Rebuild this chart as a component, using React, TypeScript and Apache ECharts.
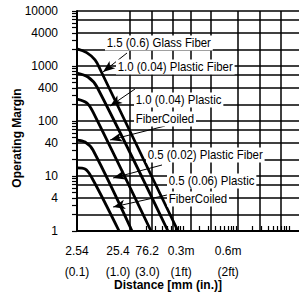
import React, { useEffect, useRef } from "react";
import * as echarts from "echarts";

const FONT = '"Liberation Sans", Arial, sans-serif';

// Axis ticks / labels
const xLabelValues = [2.54, 25.4, 76.2, 304.8, 609.6];
const xLabelTop = ["2.54", "25.4", "76.2", "0.3m", "0.6m"];
const xLabelBottom = ["(0.1)", "(1.0)", "(3.0)", "(1ft)", "(2ft)"];
const xGridValues = [25.4, 66, 165, 360, 860, 2770, 7200, 18000];
const xMinorTicks = [25.4, 50.8, 76.2, 101.6, 127, 152.4, 177.8, 203.2, 228.6, 254, 508, 762, 1016, 1270, 1524, 1778, 2032, 2286, 2540, 5080, 7620, 10160, 12700, 15240, 17780, 20320, 22860, 25400];
const yLabelValues = [1, 4, 10, 40, 100, 400, 1000, 4000, 10000];
const yGridValues = [2, 4, 7, 10, 20, 40, 70, 100, 200, 400, 700, 1000, 2000, 4000, 7000, 10000];
const yMinorTicks = [1, 2, 3, 4, 5, 6, 7, 8, 9, 10, 20, 30, 40, 50, 60, 70, 80, 90, 100, 200, 300, 400, 500, 600, 700, 800, 900, 1000, 2000, 3000, 4000, 5000, 6000, 7000, 8000, 9000, 10000];

// Curves [distance mm, operating margin]
const glassFiber15 = [[2.54, 2040], [3.87, 1750], [5.56, 1290], [7.03, 846], [204, 1]];
const plasticFiber10 = [[2.54, 745], [4.09, 631], [6.06, 415], [132, 1]];
const plasticCoiled10 = [[2.54, 250], [3.92, 212], [5.08, 146], [63.2, 1]];
const plasticFiber05 = [[2.54, 45], [3.6, 41.5], [5.08, 29.7], [27.7, 1]];
const plasticCoiled05 = [[2.54, 14], [3.6, 13.4], [4.87, 9.2], [15.8, 1]];

// Annotation arrows: [from, to]
const arrowGlass15 = [[22.3, 1723], [7.85, 778]];
const arrowFiber10 = [[31.6, 382], [10.7, 187]];
const arrowCoiled10 = [[116, 81], [10.7, 45.2]];
const arrowFiber05 = [[102, 15.85], [12.2, 9.2]];
const arrowCoiled05 = [[126, 4.51], [12.2, 2.73]];

const curveNames = [
  "1.5 (0.6) Glass Fiber",
  "1.0 (0.04) Plastic Fiber",
  "1.0 (0.04) Plastic FiberCoiled",
  "0.5 (0.02) Plastic Fiber",
  "0.5 (0.06) Plastic FiberCoiled",
];

const X_MIN = 2.54;
const X_MAX = 39200;

function makeSeries(name: string, data: number[][], arrow: number[][]) {
  return {
    name,
    type: "line",
    xAxisIndex: 0,
    yAxisIndex: 0,
    data,
    smooth: 0.35,
    showSymbol: false,
    symbol: "none",
    lineStyle: { color: "#000", width: 2.8 },
    z: 5,
    markLine: {
      silent: true,
      symbol: ["none", "arrow"],
      symbolSize: [7, 12],
      lineStyle: { color: "#000", width: 1, type: "solid" },
      label: { show: false },
      emphasis: { disabled: true },
      data: [[{ coord: arrow[0] }, { coord: arrow[1] }]],
    },
  };
}

export default function App() {
  const ref = useRef<HTMLDivElement>(null);
  useEffect(() => {
    if (!ref.current) return;
    const chart = echarts.init(ref.current, undefined, { renderer: "svg" });
    const txt = (text: string, x: number, y: number) => ({
      type: "text",
      x,
      y,
      z: 100,
      scaleX: 0.88,
      style: {
        text,
        fill: "#000",
        font: `13px ${FONT}`,
        backgroundColor: "#fff",
        padding: [1, 2],
        verticalAlign: "middle",
        align: "left",
      },
    });
    const richLabel = (pad: number[]) => ({
      fontFamily: FONT,
      fontSize: 12,
      color: "#000",
      lineHeight: 21,
      padding: pad,
    });
    const labelFormatter = (v: number) => {
      const i = xLabelValues.findIndex((t) => Math.abs(t - v) / t < 0.01);
      if (i < 0) return "";
      return `{r${i}|${xLabelTop[i]}}\n{r${i}|${xLabelBottom[i]}}`;
    };
    const rich = {
      r0: richLabel([0, 0, 0, 0]),
      r1: richLabel([0, 24, 0, 0]),
      r2: richLabel([0, 16, 0, 0]),
      r3: richLabel([0, 12, 0, 0]),
      r4: richLabel([0, 0, 0, 50]),
    };
    const labelAxis = (values: number[]) => ({
      customValues: values,
      hideOverlap: false,
      color: "#000",
      fontFamily: FONT,
      fontSize: 12,
      lineHeight: 21,
      margin: 9,
      formatter: labelFormatter,
      rich,
    });
    const option: any = {
      animation: false,
      backgroundColor: "#fff",
      grid: { left: 77, right: 0, top: 11, bottom: 68 },
      xAxis: [
        {
          type: "log",
          min: X_MIN,
          max: X_MAX,
          position: "bottom",
          axisLine: { show: true, lineStyle: { color: "#000", width: 2 } },
          axisTick: { show: true, inside: true, length: 5, customValues: xMinorTicks, lineStyle: { color: "#000", width: 1.2 } },
          axisLabel: labelAxis([xLabelValues[0], xLabelValues[2]]),
          splitLine: { show: false },
        },
        {
          type: "log",
          min: X_MIN,
          max: X_MAX,
          position: "bottom",
          offset: 0,
          axisLine: { show: false },
          axisTick: { show: false, customValues: xGridValues },
          axisLabel: labelAxis([xLabelValues[1], xLabelValues[4]]),
          splitLine: { show: true, lineStyle: { color: "#000", width: 1.5 } },
        },
        {
          type: "log",
          min: X_MIN,
          max: X_MAX,
          position: "bottom",
          offset: 0,
          axisLine: { show: false },
          axisTick: { show: false, customValues: [xLabelValues[3]] },
          axisLabel: labelAxis([xLabelValues[3]]),
          splitLine: { show: false },
        },
      ],
      yAxis: [
        {
          type: "log",
          min: 1,
          max: 10000,
          position: "left",
          axisLine: { show: true, lineStyle: { color: "#000", width: 2 } },
          axisTick: { show: true, inside: false, length: 5, customValues: yMinorTicks, lineStyle: { color: "#000", width: 1.2 } },
          axisLabel: {
            customValues: yLabelValues,
            color: "#000",
            fontFamily: FONT,
            fontSize: 12,
            margin: 19,
            formatter: (v: number) => String(Math.round(v)),
          },
          splitLine: { show: false },
        },
        {
          type: "log",
          min: 1,
          max: 10000,
          position: "left",
          axisLine: { show: false },
          axisTick: { show: false, customValues: yGridValues },
          axisLabel: { show: false },
          splitLine: { show: true, lineStyle: { color: "#000", width: 1.5 } },
        },
      ],
      series: [
        makeSeries(curveNames[0], glassFiber15, arrowGlass15),
        makeSeries(curveNames[1], plasticFiber10, arrowFiber10),
        makeSeries(curveNames[2], plasticCoiled10, arrowCoiled10),
        makeSeries(curveNames[3], plasticFiber05, arrowFiber05),
        makeSeries(curveNames[4], plasticCoiled05, arrowCoiled05),
      ],
      graphic: [
        txt("1.5 (0.6) Glass Fiber", 105, 43),
        txt("1.0 (0.04) Plastic Fiber", 116, 67),
        txt("1.0 (0.04) Plastic", 134, 100),
        txt("FiberCoiled", 134, 119),
        txt("0.5 (0.02) Plastic Fiber", 146, 155),
        txt("0.5 (0.06) Plastic", 167, 181),
        txt("FiberCoiled", 167, 199),
        {
          type: "text",
          x: 168,
          y: 285,
          z: 100,
          style: { text: "Distance [mm (in.)]", fill: "#000", font: `bold 12px ${FONT}`, align: "center", verticalAlign: "middle" },
        },
        {
          type: "text",
          x: 17,
          y: 138,
          z: 100,
          rotation: Math.PI / 2,
          style: { text: "Operating Margin", fill: "#000", font: `bold 12px ${FONT}`, align: "center", verticalAlign: "middle" },
        },
      ],
    };
    chart.setOption(option);
    return () => chart.dispose();
  }, []);
  return <div ref={ref} style={{ position: "fixed", left: 0, top: 0, width: 299, height: 299 }} />;
}
